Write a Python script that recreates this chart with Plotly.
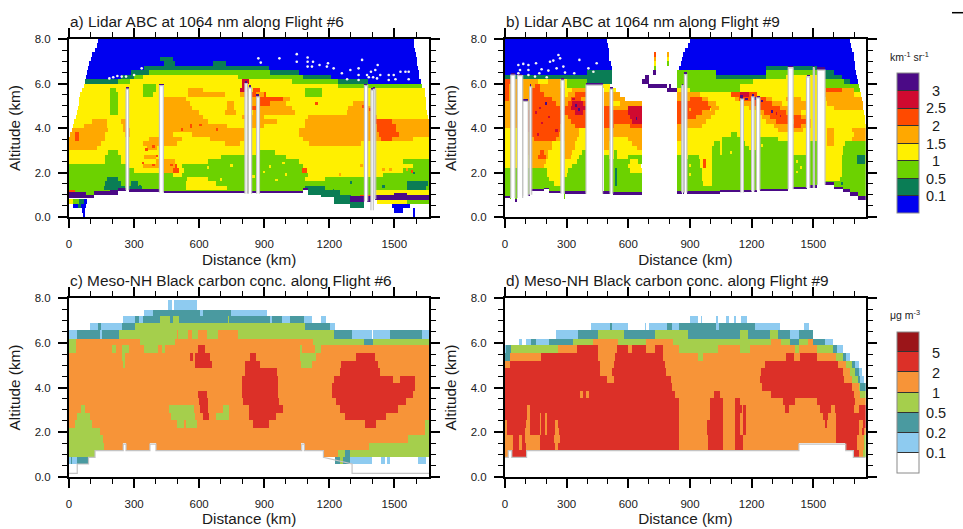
import numpy as np
import plotly.graph_objects as go

W, H = 963, 529
FONT = "Liberation Sans"
INK = "#1a1a1a"

# ---- class order and colours -------------------------------------------------
LIDAR_KEYS = "btgyorcp"
LIDAR_COLORS = ["#0000f0", "#0a7d55", "#6cd200", "#fff000", "#ffa800", "#ff4a00", "#d00a30", "#4b0a86"]
LIDAR_LABELS = ["0.1", "0.5", "1", "1.5", "2", "2.5", "3"]
BC_KEYS = "0ltgorD"
BC_COLORS = ["#ffffff", "#8ecbf0", "#4a9aa0", "#a5cf4c", "#f79438", "#dc3028", "#9b1519"]
BC_LABELS = ["0.1", "0.2", "0.5", "1", "2", "5"]

X_MAX_6, X_MAX_9 = 1661, 1755

# ---- lidar rows: top-down, each row is "start_km class ..." (w = no data) ----
LIDAR_EDGES = [round(8.0 - 0.2 * i, 1) for i in range(41)]
ROWS_A = [
    "0w 135b 1592w", "0w 128b 1594w", "0w 120b 1597w", "0w 110b 1599w",
    "0w 100b 420t 480b 1603w",
    "0w 93b 440t 490b 665t 725b 1606w",
    "0w 88b 350t 920b 1610w",
    "0w 85b 290t 370g 930t 1060b 1614w",
    "0w 82b 240t 300g 340y 780g 1080t 1210b 1618w",
    "0w 78t 230g 280y 800c 830y 1030g 1240t 1380b 1624w",
    "0w 70y 340g 400y 800c 825y 1240g 1630w",
    "0w 60y 190g 215y 340g 400y 550o 620y 790c 825y 850r 880y 1090g 1170y 1640w",
    "0w 52y 190g 225y 340g 390y 550o 720y 790o 830r 860o 900r 910y 1090g 1170y 1642w",
    "0w 47y 190g 225y 430o 540y 840o 870r 940r 990o 1020y 1645w",
    "0w 43y 190g 225y 430o 560y 730o 760y 830o 860r 930o 1000y 1310o 1380y 1648w",
    "0w 40y 190g 225y 430o 570y 730o 760y 840r 880o 1030y 1290o 1400y 1650w",
    "0w 37y 190g 225y 430o 600y 720o 770y 850o 1040y 1280o 1400y 1652w",
    "0w 33y 430o 620y 800o 900y 1100o 1250o 1360r 1370o 1420y 1655w",
    "0w 25y 110o 175y 240o 275y 430o 640y 820o 960y 1090o 1410r 1490o 1660w",
    "0w 20y 70o 175y 250o 275y 430o 560r 570o 730y 820o 900y 1090o 1420r 1510o 1660w",
    "0w 12o 180y 250o 280y 440o 810y 1060o 1420r 1510o 1660w",
    "0w 5o 30r 50o 170y 260o 280y 440o 480y 570o 810y 1060o 1430r 1520o 1660w",
    "0o 30r 50o 165y 280y 370o 520y 650o 810y 1080o 1440r 1490o 1590y 1660w",
    "0o 150y 340o 500y 720o 790y 1110o 1350y 1660w",
    "0o 130y 360o 410y 1660w",
    "0y 180g 230y 860g 950y 1660w",
    "0y 170g 240y 350o 400y 700g 1000y 1660w",
    "0y 170g 240y 400o 490y 640g 1060y 1540g 1660w",
    "0g 270y 340o 490r 500y 520g 1080y 1590g 1660w",
    "0g 300y 440o 480r 510y 530g 1075r 1095y 1540g 1660w",
    "0g 480y 520g 1100y 1450g 1660w",
    "0g 175t 230g 530g 545y 640g 1090y 1180g 1660w",
    "0g 165t 240g 290t 320g 540y 680g 1090g 1560t 1655g 1660w",
    "0g 160t 258g 270t 335g 540y 730g 1090t 1180g 1560t 1650g 1660w",
    "0r 30g 70g 190t 240g 1100t 1250g 1400y 1660w",
    "0o 50g 80w 1100t 1300g 1340r 1660w",
    "0y 20g 50t 70b 85w 1220t 1360w 1420y 1560g 1660w",
    "0w 20b 40t 55b 80w 1296t 1360w 1489b 1572w",
    "0w 62b 78w 1400b 1408w 1500b 1540w 1587b 1597w",
    "0w 66b 76w 1590b 1596w",
]
ROWS_B = [
    "0b 497w 900b 1680w", "0b 500w 888b 1685w", "0b 503w 878b 1690w",
    "0b 506w 725r 738w 790o 797w 870b 1695w",
    "0b 510w 725o 738w 790y 797w 862b 1700w",
    "0b 515w 725y 738w 790g 797w 855b 1703w",
    "0b 519w 725g 738w 848b 1273t 1517b 1706w",
    "0b 400t 519w 720p 738w 835g 1030b 1273g 1517t 1600b 1710w",
    "0t 520w 682p 700w 835g 1030t 1273g 1370y 1517t 1640b 1713w",
    "0r 30o 160y 210o 270y 300g 400t 520w 663p 700w 835g 1210y 1517g 1650t 1680b 1717w",
    "0r 20o 150r 170o 270y 300g 392w 475y 511w 698p 788w 800p 810w 835g 1143y 1550g 1722w",
    "0r 20o 130r 170o 292y 330o 392w 480y 540w 790p 835y 900g 1143y 1530o 1560r 1640o 1700g 1727w",
    "0r 20o 130r 190o 292y 310o 340r 392w 480o 560w 835o 950y 1100r 1143c 1190r 1230y 1540o 1700y 1732w",
    "0r 20o 130r 230o 320r 370o 392w 480o 585w 835o 900r 960o 990y 1120o 1140r 1270o 1300y 1370o 1440y 1560o 1737w",
    "0o 130r 250o 310r 325c 380r 392w 480o 520y 560o 665w 835r 990o 1030y 1150o 1210r 1300o 1350y 1400o 1470y 1570o 1740w",
    "0o 120r 270o 292r 320c 392w 480r 520o 600c 665w 835r 1000o 1040y 1190o 1240r 1340o 1470y 1600o 1742w",
    "0o 110r 340c 380r 392w 480r 600c 665w 835r 960o 1020y 1230o 1260r 1370o 1440y 1747w",
    "0o 100r 290o 310r 392w 480r 610c 665w 835r 930o 1000y 1250o 1290r 1390o 1400r 1440o 1470y 1751w",
    "0o 100r 280o 320r 392w 480r 620c 665w 835r 880o 980y 1270o 1320r 1400o 1410r 1470o 1490y 1754w",
    "0o 100r 270o 340r 392w 480r 530o 610r 665w 835o 960y 1310o 1400r 1440o 1490y 1755w",
    "0y 100r 270o 360y 392w 480o 665w 835o 880y 1330o 1450y 1563o 1600y 1690o 1755w",
    "0y 100o 130r 265o 360y 392w 480o 665w 835o 860y 1100g 1130y 1563o 1600y 1700o 1755w",
    "0y 100o 140r 250o 350y 392w 480o 520y 600o 665w 835o 870y 1055g 1150y 1240g 1330y 1563o 1600y 1690o 1755w",
    "0y 100o 230y 292o 340y 392w 480o 510y 620o 665w 835y 1015g 1045y 1055g 1170y 1240g 1380y 1483g 1520y 1563o 1600y 1655g 1755w",
    "0y 100o 230y 292o 340y 392w 480o 505y 640o 665w 835y 1008g 1048y 1055g 1190y 1240g 1380y 1483g 1520y 1646g 1755w",
    "0y 110o 170r 190o 210y 292o 330y 375g 392w 480y 530g 545y 665w 835y 1008g 1048y 1055g 1220y 1240g 1400y 1483g 1520y 1646g 1755w",
    "0y 115o 160r 200o 210y 292o 320y 360g 392w 480g 510y 530g 545y 600g 665w 835g 860y 888g 945y 1008g 1402g 1520y 1640g 1711t 1752g 1755w",
    "0y 120o 200y 350g 392w 480g 610y 650g 665w 835g 860y 880g 950y 965r 975y 1008g 1520y 1640g 1711t 1752g 1755w",
    "0y 130o 190y 330g 392w 480g 600y 660w 835g 860y 880g 950y 965r 975y 1008g 1520y 1640g 1755w",
    "0g 137g 204y 310g 392w 480g 537t 545g 610y 665w 835g 860y 880g 955y 1008g 1520y 1640g 1755w",
    "0g 204y 300g 392w 480g 537t 545g 665w 835g 860y 880g 960y 1008g 1520y 1640g 1755w",
    "0g 215y 290g 392w 480g 537t 545g 665w 835g 860y 880g 960y 1008g 1520y 1630g 1755w",
    "0g 240y 285g 392w 480g 537t 545g 665w 835g 860y 880g 965y 1008g 1755w",
    "0g 392w 480g 665w 835g 1755w",
    "0g 392w 480g 665w 835g 1755w",
    "0g 392w 480g 665w 835g 1755w",
    "0w 49g 62w 1755w",
    "0w 1755w", "0w 1755w", "0w 1755w",
]

# ground layer: km start, km end, purple bottom, purple top (equal = no purple)
GROUND_A = [
    (0, 80, .85, 1.1), (80, 115, .82, .98), (115, 190, 1.0, 1.15), (190, 230, .98, 1.2),
    (230, 270, 1.15, 1.3), (270, 420, 1.12, 1.25), (420, 1080, 1.06, 1.15), (1080, 1100, 1.2, 1.3),
    (1100, 1160, 1.0, 1.0), (1160, 1220, .9, .9), (1220, 1260, .7, .7), (1260, 1296, .55, .55),
    (1296, 1397, .7, .95), (1397, 1500, .76, 1.0), (1500, 1560, .76, 1.08), (1560, 1661, .76, .98),
]
GROUND_B = [
    (0, 24, .85, .95), (49, 60, .7, .8), (113, 120, .95, 1.05), (130, 190, 1.18, 1.28), (190, 215, 1.22, 1.32),
    (215, 272, 1.08, 1.18), (292, 392, 1.03, 1.15), (475, 511, 1.05, 1.17), (524, 665, 1.0, 1.13),
    (835, 1050, 1.05, 1.17), (1050, 1240, 1.1, 1.2), (1240, 1378, 1.17, 1.27), (1402, 1483, 1.25, 1.35),
    (1483, 1557, 1.33, 1.42), (1557, 1600, 1.45, 1.57), (1600, 1646, 1.25, 1.35), (1646, 1680, 1.1, 1.25),
    (1680, 1715, .95, 1.1), (1715, 1755, .75, .95),
]
# gaps in the lidar curtain: km start, km end, top, bottom
STRIPS_A = [(263, 275, 5.75, 1.2), (417, 435, 5.9, 1.1), (811, 822, 6.0, 1.05), (827, 842, 5.8, 1.05),
            (865, 878, 5.4, 1.05), (1362, 1377, 5.9, .7), (1392, 1403, 5.7, .3), (1406, 1414, 5.75, .8)]
STRIPS_B = [(28, 49, 6.38, .85), (60, 86, 6.35, .85), (86, 113, 5.2, .95), (120, 130, 5.85, 1.0),
            (272, 288, 6.15, 1.05), (394, 475, 5.93, 1.05), (511, 524, 5.75, 1.05),
            (860, 868, 5.9, 1.1), (873, 885, 6.4, 1.1), (1147, 1160, 5.3, 1.1), (1200, 1212, 5.4, 1.15),
            (1223, 1240, 5.35, 1.2), (1378, 1402, 6.7, 1.25), (1467, 1483, 6.3, 1.3), (1500, 1506, 6.7, 1.3),
            (1520, 1557, 6.6, 1.45)]
# white specks in the blue layer
SPECK_A_KM = [186, 204, 223, 243, 263, 300, 335, 873, 884, 970, 1050, 1050, 1100, 1100, 1125, 1100, 1120, 1155, 1194,
              1189, 1220, 1258, 1282, 1297, 1335, 1351, 1335, 1335, 1374, 1392, 1412, 1423, 1382, 1402, 1420, 1435,
              1474, 1497, 1528, 1551, 1566, 1566, 1474, 1505]
SPECK_A_ALT = [6.23, 6.28, 6.34, 6.31, 6.31, 6.38, 6.68, 7.13, 6.94, 7.13, 7.32, 6.98, 7.17, 6.98, 6.98, 6.76, 6.76, 6.83,
               6.91, 6.76, 6.68, 6.46, 6.19, 6.61, 6.68, 7.06, 6.38, 6.16, 6.38, 6.53, 6.61, 6.83, 6.28, 6.28, 6.23,
               6.38, 6.38, 6.38, 6.53, 6.53, 6.53, 6.19, 6.16, 6.19]
SPECK_B_KM = [65, 89, 114, 151, 178, 219, 235, 260, 268, 284, 211, 251, 292, 362, 337, 406, 430, 446, 73, 114, 167, 146,
              203, 65, 114]
SPECK_B_ALT = [6.83, 6.88, 6.83, 6.91, 6.64, 6.98, 7.03, 7.28, 7.13, 6.76, 6.58, 6.68, 6.49, 7.06, 6.46, 6.68, 6.53, 6.91,
               6.61, 6.61, 6.46, 6.31, 6.28, 6.46, 6.38]
# isolated cells of another class
FLECK_A = [(428, 3.84, "r"), (520, 3.92, "r"), (605, 4.14, "r"), (682, 3.92, "r"), (358, 3.02, "r"), (389, 3.17, "r"),
           (405, 2.72, "r"), (343, 2.42, "r"), (474, 2.35, "r"), (389, 2.35, "r"), (1358, 4.96, "r"), (1389, 4.81, "r"),
           (1143, 5.11, "r"), (1558, 2.12, "o"), (1582, 2.05, "r"), (1451, 2.12, "o"), (1482, 2.12, "o"),
           (928, 2.27, "y"), (958, 1.67, "y"), (989, 2.42, "y"), (297, 1.52, "t"), (328, 1.38, "t"), (1220, 1.23, "t"),
           (1158, 1.23, "t"), (1451, 1.38, "t"), (1589, 1.97, "t"), (900, 2.0, "y"), (1000, 1.9, "y"), (850, 1.8, "y"),
           (1300, 1.55, "t"), (1250, 1.9, "o"), (1350, 2.3, "o"), (750, 2.3, "y"), (640, 2.2, "y"), (700, 1.7, "y")]
FLECK_B = [(150, 4.7, "c"), (180, 4.2, "c"), (215, 4.5, "c"), (250, 3.9, "c"), (160, 3.7, "c"), (170, 4.9, "c"),
           (200, 5.1, "p"), (360, 4.8, "p"), (345, 5.0, "p"), (335, 5.3, "c"), (640, 4.4, "p"), (1150, 5.4, "p"),
           (1175, 5.3, "p"), (1215, 5.35, "p"), (1250, 5.2, "p"), (1300, 4.75, "p"), (1340, 4.55, "c"), (1320, 4.65, "c"),
           (1000, 4.8, "y"), (900, 4.8, "o"), (1100, 2.9, "y"), (1250, 3.2, "y"), (1420, 2.5, "y"), (1440, 2.2, "y"),
           (1420, 2.0, "y"), (900, 1.9, "y"), (900, 2.3, "y"), (1640, 1.5, "t")]

# ---- Meso-NH rows: top-down on the model levels ------------------------------
BC_EDGES = [7.9, 7.47, 7.2, 6.88, 6.56, 6.17, 5.86, 5.53, 5.19, 4.86, 4.53, 4.2, 3.84, 3.51, 3.18, 2.84, 2.51, 2.17,
            1.84, 1.46, 1.17, .87, .57]
ROWS_C = [
    "0x 458l 478x 484l 589x",
    "0x 346l 390t 405l 410t 604l 620t 750l 911x",
    "0x 250l 304t 324l 340t 420g 466t 482g 509t 732g 738t 927l 935t 980l 1020t 1085l 1120x 1165l 1185x",
    "0x 97l 135t 150l 243t 305g 1090t 1205l 1228x",
    "0l 38t 143l 153t 232g 495o 505g 550o 570g 596o 635g 690o 780g 1226t 1303l 1395x 1400l 1480t 1630l 1660x",
    "0g 32o 327g 490o 1125g 1360t 1400g 1660x",
    "0g 32o 200g 215o 243g 275o 345g 412o 430g 445o 598r 627o 1065g 1075o 1135g 1160o 1660x",
    "0o 243g 258o 560r 573o 580r 650o 838r 862o 1065g 1142o 1323r 1411o 1660x",
    "0o 247g 258o 580r 662o 811r 880o 1073g 1119o 1257r 1426o 1660x",
    "0o 811r 960o 1250r 1434o 1660x",
    "0o 796r 965o 1226r 1495o 1523r 1595o 1660x",
    "0o 796r 965o 1211r 1595o 1660x",
    "0o 598r 635o 796r 965o 1211r 1590o 1660x",
    "0o 600r 642o 804r 970o 1234r 1554o 1660x",
    "0o 58g 78o 461g 578o 604r 642o 708g 735o 827r 988o 1250r 1518o 1660x",
    "0o 38g 97o 473g 581o 620r 645o 678g 742o 831r 957o 1272r 1465o 1660x",
    "0o 30g 110o 500g 527o 540g 590o 847r 919o 1365r 1418o 1640g 1660x",
    "0g 143o 1640g 1660x",
    "0g 158o 1564g 1660x",
    "0g 160o 250x 263o 373x 401o 1073x 1085o 1385g 1660x",
    "0g 120x 1173o 1242g 1272t 1295g 1660x",
    "0l 10t 18l 38t 90x 1230t 1250g 1265t 1295l 1395x 1440l 1455x 1470l 1480x 1610l 1650x",
]
ROWS_D = [
    "0x 1755x",
    "0x 1755x",
    "0x 900l 942x 952l 962x 1030l 1038x 1075l 1087x 1114l 1124x 1147l 1176x",
    "0x 417l 511t 520l 597x 681l 689x 700l 790t 811l 843t 1030l 1040t 1216l 1338x 1452l 1481x 1755x",
    "0x 248l 357t 454g 579t 730g 892t 1143g 1184t 1290g 1330t 1387l 1427t 1497x 1755x",
    "0x 70l 86x 102l 130t 154l 214t 333g 427o 551g 689o 816g 1298o 1346g 1390t 1427g 1471o 1497t 1557l 1598x 1755x",
    "0l 5t 28g 255o 349r 454o 543r 600o 620r 689o 730r 770o 843g 1038o 1143g 1192o 1411g 1427o 1516g 1598t 1617l 1643x 1755x",
    "0t 24o 178r 454o 535r 770o 940g 965o 1370r 1403o 1436r 1516o 1614g 1643t 1662l 1680x 1755x",
    "0o 24r 462o 527r 775o 1265r 1622o 1662g 1687t 1703l 1719x 1755x",
    "0r 465o 520r 785o 1245r 1645o 1680g 1705t 1720l 1735x 1755x",
    "0r 495o 527r 810o 1241r 1650o 1690g 1715t 1730l 1745x 1755x",
    "0r 811o 1249r 1687o 1719g 1730t 1755x",
    "0r 365o 381r 397o 410r 827o 1018r 1046o 1298r 1696o 1730g 1755x",
    "0r 845o 998r 1062o 1122r 1143o 1354r 1411o 1516r 1703o 1755x",
    "0r 109o 122r 845o 998r 1062o 1122r 1152o 1160r 1173o 1362r 1379o 1533r 1590o 1606r 1695o 1724r 1755x",
    "0r 109o 122r 167o 178r 195o 206r 845o 998r 1062o 1122r 1143o 1160r 1173o 1549r 1573o 1614r 1755x",
    "0o 8r 102o 122r 167o 178r 195o 206r 243o 260r 845o 985r 1062o 1122r 1143o 1160r 1173o 1556r 1566o 1614r 1725o 1740r 1755x",
    "0o 8r 97o 122r 172o 176r 198o 206r 243o 265r 845o 985r 1062o 1122r 1143o 1160r 1173o 1614r 1725o 1735r 1750o 1755x",
    "0o 40r 68o 86r 97o 170r 238o 268r 845o 989r 1062o 1122r 1160o 1614r 1714o 1745g 1755x",
    "0o 40r 68o 86r 100o 170r 243o 262r 845o 989r 1062o 1122r 1160o 1430x 1658r 1714o 1745g 1755x",
    "0o 16x 33r 105x 1695r 1720o 1740g 1755x",
    "0x 1755x",
]
OUTLINE_C_KM = [0, 38, 38, 90, 90, 120, 120, 250, 250, 263, 263, 373, 373, 401, 401, 1073, 1073, 1085, 1085, 1173, 1173,
                1305, 1305, 1661]
OUTLINE_C_ALT = [.15, .15, .57, .57, .87, .87, 1.17, 1.17, 1.46, 1.46, 1.17, 1.17, 1.46, 1.46, 1.17, 1.17, 1.46, 1.46, 1.17,
                 1.17, .87, .57, .15, .15]
OUTLINE_D_KM = [0, 16, 16, 33, 33, 105, 105, 1430, 1430, 1658, 1658, 1695, 1695, 1755]
OUTLINE_D_ALT = [.87, .87, 1.17, 1.17, .87, .87, 1.17, 1.17, 1.46, 1.46, 1.17, 1.17, .87, .87]

DX, DY = 4.0, 0.04


def rasterize(rows, edges, keys, xmax):
    xs = np.arange(DX / 2, xmax, DX)
    ys = np.arange(DY / 2, 8.0, DY)
    z = np.full((len(ys), len(xs)), np.nan)
    for i, row in enumerate(rows):
        lo, hi = edges[i + 1], edges[i]
        mask_y = (ys >= lo) & (ys < hi)
        toks = row.split()
        starts = [float(t[:-1]) for t in toks] + [1e9]
        for j, t in enumerate(toks):
            c = t[-1]
            if c in keys:
                mask_x = (xs >= starts[j]) & (xs < starts[j + 1])
                z[np.ix_(mask_y, mask_x)] = keys.index(c)
    return xs, ys, z


def lidar(rows, ground, strips, flecks, xmax, clear_floor):
    xs, ys, z = rasterize(rows, LIDAR_EDGES, LIDAR_KEYS, xmax)
    p = LIDAR_KEYS.index("p")
    for km, alt, c in flecks:
        mx = np.abs(xs - km) < 6
        z[np.ix_(np.abs(ys - alt) < 0.06, mx)] = LIDAR_KEYS.index(c)
    for x0, x1, lo, hi in ground:
        mx = (xs >= x0) & (xs < x1)
        z[np.ix_((ys < lo) & (ys >= clear_floor), mx)] = np.nan
        z[np.ix_((ys >= lo) & (ys < hi), mx)] = p
    for x0, x1, top, bot in strips:
        mx = (xs >= x0) & (xs < x1)
        z[np.ix_(ys < top, mx)] = np.nan
        z[np.ix_((ys >= top) & (ys < top + 0.1), mx)] = p
    return xs, ys, z


def strip_lines(strips):
    xl, yl = [], []
    for x0, x1, top, bot in strips:
        xl += [x0, x0, x1, x1, None]
        yl += [bot, top, top, bot, None]
    return xl, yl


def discrete(colors):
    n = len(colors)
    out = []
    for i, c in enumerate(colors):
        out += [[i / n, c], [(i + 1) / n, c]]
    return out


panels = [
    dict(ax="", px=(69, 429.3), py=(39, 217), xmax=X_MAX_6, title="a) Lidar ABC at 1064 nm along Flight #6"),
    dict(ax="2", px=(505, 865.7), py=(39, 217), xmax=X_MAX_9, title="b) Lidar ABC at 1064 nm along Flight #9"),
    dict(ax="3", px=(69, 429.3), py=(298.3, 476.7), xmax=X_MAX_6, title="c) Meso-NH Black carbon conc. along Flight #6"),
    dict(ax="4", px=(505, 865.7), py=(298.3, 476.7), xmax=X_MAX_9, title="d) Meso-NH Black carbon conc. along Flight #9"),
]

fig = go.Figure()


def add_map(idx, xs, ys, z, colors, cbar):
    ax = panels[idx]["ax"]
    n = len(colors)
    fig.add_trace(go.Heatmap(
        x=xs, y=ys, z=z, xaxis="x" + ax, yaxis="y" + ax, zmin=-0.5, zmax=n - 0.5,
        colorscale=discrete(colors), showscale=cbar is not None, colorbar=cbar, hoverongaps=False, zsmooth=False))


def colorbar(top_px, bottom_px, n):
    return dict(x=897.3 / W, xanchor="left", xpad=0, y=1 - bottom_px / H, yanchor="bottom", ypad=0,
                len=bottom_px - top_px, lenmode="pixels", thickness=22, thicknessmode="pixels",
                outlinecolor="#8a8a8a", outlinewidth=1, tickmode="array",
                tickvals=[i + 0.5 for i in range(n - 1)],
                ticks="inside", ticklen=22, tickwidth=1, tickcolor="#333333", showticklabels=False)


xa, ya, za = lidar(ROWS_A, GROUND_A, STRIPS_A, FLECK_A, X_MAX_6, 0.8)
xb, yb, zb = lidar(ROWS_B, GROUND_B, STRIPS_B, FLECK_B, X_MAX_9, 0.0)
xc, yc, zc = rasterize(ROWS_C, BC_EDGES, BC_KEYS, X_MAX_6)
xd, yd, zd = rasterize(ROWS_D, BC_EDGES, BC_KEYS, X_MAX_9)

add_map(0, xa, ya, za, LIDAR_COLORS, colorbar(73, 213, 8))
add_map(1, xb, yb, zb, LIDAR_COLORS, None)
add_map(2, xc, yc, zc, BC_COLORS, colorbar(332, 472.7, 7))
add_map(3, xd, yd, zd, BC_COLORS, None)


def line(idx, xl, yl):
    ax = panels[idx]["ax"]
    fig.add_trace(go.Scatter(x=xl, y=yl, xaxis="x" + ax, yaxis="y" + ax, mode="lines", showlegend=False,
                             hoverinfo="skip", line=dict(color="#c4c4c4", width=1.2)))


line(0, *strip_lines(STRIPS_A))
line(1, *strip_lines(STRIPS_B))
line(2, OUTLINE_C_KM, OUTLINE_C_ALT)
line(3, OUTLINE_D_KM, OUTLINE_D_ALT)

for idx, (sx, sy) in enumerate([(SPECK_A_KM, SPECK_A_ALT), (SPECK_B_KM, SPECK_B_ALT)]):
    ax = panels[idx]["ax"]
    fig.add_trace(go.Scatter(x=sx, y=sy, xaxis="x" + ax, yaxis="y" + ax, mode="markers", showlegend=False,
                             hoverinfo="skip", marker=dict(color="#f4f4f4", size=2.6, line=dict(width=0))))

layout = dict(width=W, height=H, margin=dict(l=0, r=0, t=0, b=0, autoexpand=False), paper_bgcolor="white",
              plot_bgcolor="white", font=dict(family=FONT, color=INK, size=11.5), showlegend=False)
annotations = []
for p in panels:
    ax = p["ax"]
    layout["xaxis" + ax] = dict(
        domain=[p["px"][0] / W, p["px"][1] / W], range=[0, p["xmax"]], anchor="y" + ax, tick0=0, dtick=300,
        ticks="outside", ticklen=9, tickwidth=2, tickcolor="black", showline=True, linewidth=2, linecolor="black",
        mirror="ticks", showgrid=False, zeroline=False, tickfont=dict(size=11.5), ticklabelstandoff=6,
        minor=dict(ticks="outside", ticklen=5, tickwidth=1, tickcolor="black", dtick=100, tick0=0, showgrid=False),
        title=dict(text="Distance (km)", font=dict(size=15.3), standoff=5))
    layout["yaxis" + ax] = dict(
        domain=[1 - p["py"][1] / H, 1 - p["py"][0] / H], range=[0, 8], anchor="x" + ax, tick0=0, dtick=2,
        tickformat=".1f", ticks="outside", ticklen=9, tickwidth=2, tickcolor="black", showline=True, linewidth=2,
        linecolor="black", mirror="ticks", showgrid=False, zeroline=False, tickfont=dict(size=11.5), ticklabelstandoff=5,
        minor=dict(ticks="outside", ticklen=5, tickwidth=1, tickcolor="black", dtick=0.5, tick0=0, showgrid=False),
        title=dict(text="Altitude (km)", font=dict(size=15.3), standoff=10))
    annotations.append(dict(text=p["title"], xref="paper", yref="paper", x=(p["px"][0] - 1) / W,
                            y=1 - (p["py"][0] - 18) / H, xanchor="left", yanchor="middle", showarrow=False,
                            font=dict(size=15.4)))

for i, lab in enumerate(LIDAR_LABELS):
    annotations.append(dict(text=lab, xref="paper", yref="paper", x=935.5 / W, y=1 - (196 - i * 17.5) / H,
                            xanchor="center", yanchor="middle", showarrow=False, font=dict(size=14.5)))
for i, lab in enumerate(BC_LABELS):
    annotations.append(dict(text=lab, xref="paper", yref="paper", x=935.5 / W, y=1 - (453 - i * 20) / H,
                            xanchor="center", yanchor="middle", showarrow=False, font=dict(size=14.5)))
annotations.append(dict(text="km<sup>-1</sup> sr<sup>-1</sup>", xref="paper", yref="paper", x=888 / W, y=1 - 56 / H,
                        xanchor="left", yanchor="middle", showarrow=False, font=dict(size=10.5)))
annotations.append(dict(text="μg m<sup>-3</sup>", xref="paper", yref="paper", x=888 / W, y=1 - 314 / H,
                        xanchor="left", yanchor="middle", showarrow=False, font=dict(size=10.5)))
layout["annotations"] = annotations
layout["shapes"] = [dict(type="line", xref="paper", yref="paper", x0=952 / W, x1=963 / W, y0=1 - 12.7 / H, y1=1 - 12.7 / H,
                         line=dict(color="black", width=1.5))]
fig.update_layout(**layout)
fig.write_html("out.html", config=dict(displayModeBar=False),
               post_script="document.body.style.margin='0';")
